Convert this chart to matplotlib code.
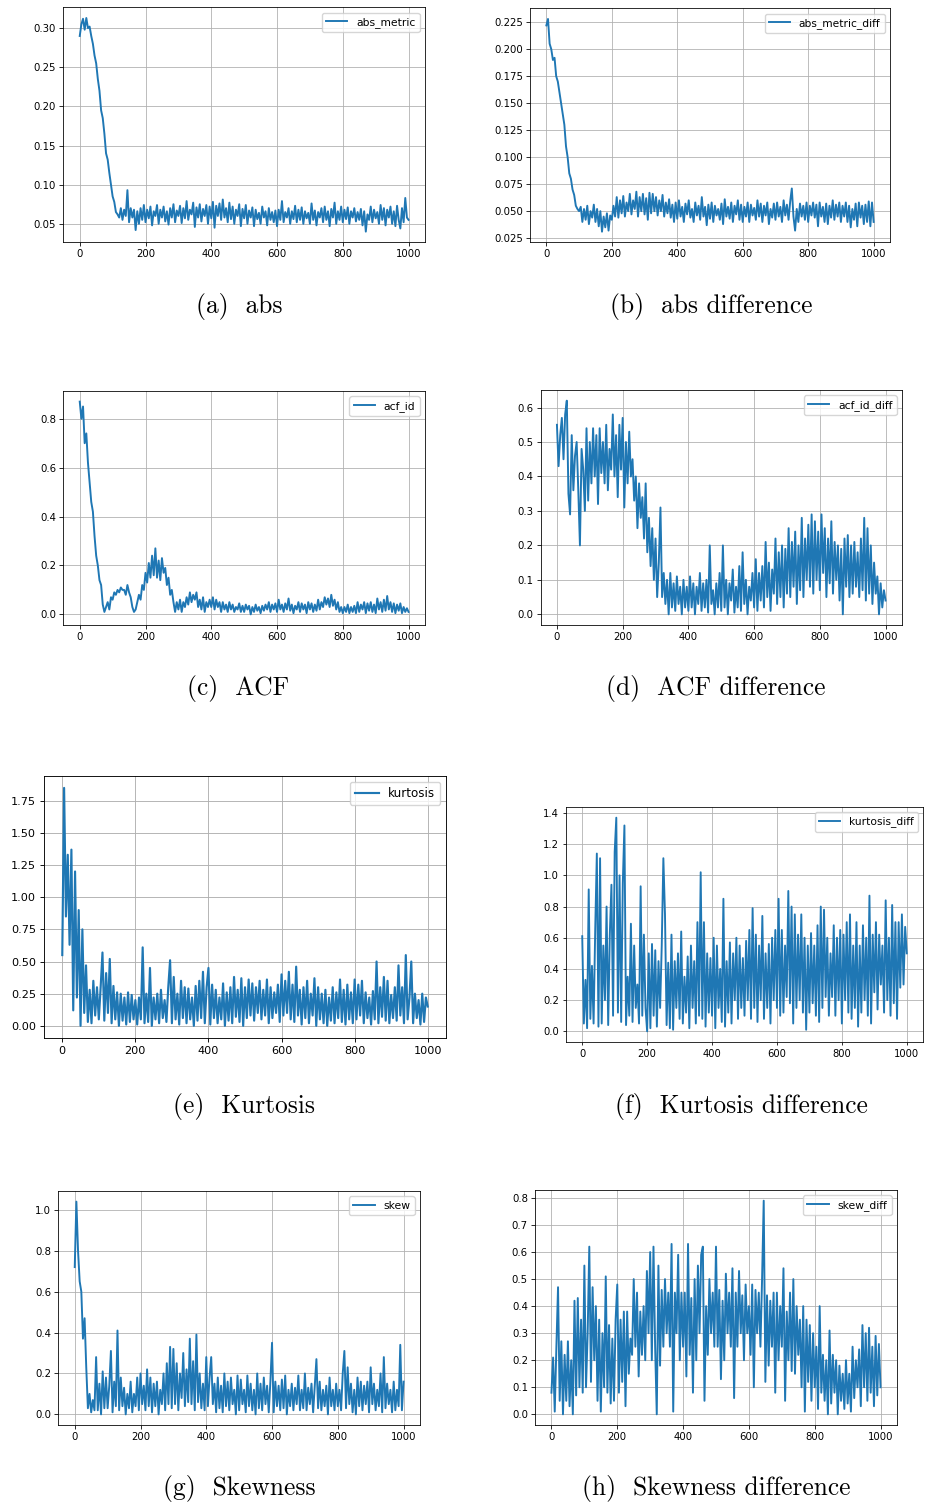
import numpy as np
import matplotlib
matplotlib.use("Agg")
import matplotlib.pyplot as plt
from matplotlib.ticker import MultipleLocator

# values, one every 5 steps from 0 to 1000 (20 per row)
abs_metric = [
    0.29, 0.305, 0.312, 0.298, 0.313, 0.30, 0.302, 0.29, 0.28, 0.265, 0.255, 0.235, 0.22, 0.195, 0.185, 0.165, 0.14, 0.132, 0.115, 0.10,
    0.085, 0.078, 0.065, 0.062, 0.058, 0.07, 0.055, 0.068, 0.06, 0.093, 0.052, 0.07, 0.058, 0.068, 0.042, 0.066, 0.05, 0.07, 0.055, 0.074,
    0.052, 0.068, 0.057, 0.072, 0.048, 0.066, 0.06, 0.074, 0.05, 0.068, 0.058, 0.072, 0.053, 0.066, 0.049, 0.07, 0.058, 0.075, 0.052, 0.067,
    0.06, 0.073, 0.051, 0.07, 0.057, 0.079, 0.055, 0.068, 0.062, 0.077, 0.046, 0.071, 0.058, 0.075, 0.053, 0.069, 0.06, 0.074, 0.05, 0.072,
    0.057, 0.078, 0.045, 0.073, 0.06, 0.076, 0.055, 0.081, 0.058, 0.07, 0.052, 0.077, 0.056, 0.072, 0.05, 0.068, 0.06, 0.075, 0.047, 0.069,
    0.057, 0.074, 0.05, 0.067, 0.058, 0.071, 0.047, 0.068, 0.056, 0.064, 0.05, 0.072, 0.058, 0.066, 0.048, 0.07, 0.055, 0.065, 0.052, 0.067,
    0.047, 0.068, 0.055, 0.079, 0.052, 0.065, 0.058, 0.07, 0.05, 0.066, 0.056, 0.073, 0.052, 0.068, 0.055, 0.071, 0.05, 0.066, 0.057, 0.064,
    0.05, 0.076, 0.055, 0.067, 0.048, 0.065, 0.058, 0.07, 0.052, 0.072, 0.055, 0.066, 0.047, 0.069, 0.058, 0.077, 0.05, 0.066, 0.055, 0.072,
    0.052, 0.068, 0.056, 0.071, 0.05, 0.066, 0.058, 0.07, 0.053, 0.065, 0.055, 0.069, 0.048, 0.066, 0.04, 0.062, 0.055, 0.072, 0.052, 0.068,
    0.057, 0.065, 0.05, 0.074, 0.055, 0.07, 0.048, 0.068, 0.058, 0.072, 0.05, 0.066, 0.047, 0.073, 0.055, 0.044, 0.07, 0.052, 0.083, 0.058,
    0.055,
]

abs_metric_diff = [
    0.222, 0.228, 0.205, 0.20, 0.19, 0.192, 0.175, 0.17, 0.16, 0.15, 0.14, 0.13, 0.11, 0.10, 0.085, 0.08, 0.07, 0.065, 0.055, 0.052,
    0.05, 0.054, 0.04, 0.052, 0.042, 0.055, 0.038, 0.05, 0.044, 0.056, 0.04, 0.052, 0.036, 0.05, 0.031, 0.045, 0.035, 0.048, 0.032, 0.046,
    0.042, 0.055, 0.045, 0.063, 0.044, 0.06, 0.048, 0.064, 0.045, 0.058, 0.05, 0.066, 0.047, 0.06, 0.052, 0.068, 0.045, 0.063, 0.05, 0.066,
    0.047, 0.062, 0.042, 0.067, 0.048, 0.066, 0.05, 0.063, 0.046, 0.06, 0.05, 0.065, 0.045, 0.058, 0.048, 0.061, 0.044, 0.056, 0.04, 0.058,
    0.043, 0.06, 0.045, 0.054, 0.04, 0.057, 0.047, 0.06, 0.044, 0.052, 0.04, 0.058, 0.046, 0.055, 0.042, 0.063, 0.045, 0.054, 0.037, 0.056,
    0.043, 0.058, 0.04, 0.055, 0.046, 0.052, 0.042, 0.057, 0.038, 0.061, 0.045, 0.054, 0.043, 0.058, 0.04, 0.055, 0.047, 0.06, 0.042, 0.056,
    0.04, 0.054, 0.045, 0.058, 0.04, 0.056, 0.046, 0.053, 0.042, 0.06, 0.045, 0.057, 0.04, 0.055, 0.046, 0.058, 0.038, 0.052, 0.044, 0.057,
    0.042, 0.058, 0.045, 0.054, 0.04, 0.06, 0.046, 0.056, 0.042, 0.059, 0.071, 0.045, 0.032, 0.052, 0.04, 0.057, 0.045, 0.055, 0.042, 0.058,
    0.04, 0.055, 0.046, 0.058, 0.044, 0.056, 0.036, 0.058, 0.045, 0.054, 0.04, 0.057, 0.038, 0.055, 0.044, 0.06, 0.042, 0.056, 0.045, 0.058,
    0.04, 0.055, 0.045, 0.058, 0.04, 0.055, 0.035, 0.052, 0.042, 0.057, 0.036, 0.058, 0.044, 0.055, 0.038, 0.056, 0.04, 0.059, 0.036, 0.058,
    0.04,
]

acf_id = [
    0.87, 0.80, 0.85, 0.70, 0.74, 0.62, 0.54, 0.46, 0.42, 0.32, 0.24, 0.20, 0.14, 0.12, 0.04, 0.01, 0.03, 0.05, 0.02, 0.07,
    0.06, 0.09, 0.08, 0.10, 0.09, 0.11, 0.10, 0.10, 0.08, 0.12, 0.09, 0.07, 0.03, 0.01, 0.02, 0.05, 0.08, 0.06, 0.12, 0.10,
    0.17, 0.13, 0.21, 0.15, 0.24, 0.16, 0.27, 0.15, 0.22, 0.14, 0.23, 0.17, 0.19, 0.12, 0.15, 0.08, 0.10, 0.05, 0.01, 0.05,
    0.02, 0.06, 0.01, 0.05, 0.03, 0.07, 0.04, 0.09, 0.05, 0.08, 0.06, 0.09, 0.03, 0.06, 0.02, 0.07, 0.01, 0.05, 0.03, 0.06,
    0.03, 0.07, 0.02, 0.06, 0.03, 0.05, 0.01, 0.05, 0.02, 0.04, 0.01, 0.05, 0.02, 0.04, 0.01, 0.03, 0.02, 0.045, 0.01, 0.035,
    0.01, 0.04, 0.02, 0.035, 0.0, 0.03, 0.01, 0.04, 0.015, 0.03, 0.005, 0.035, 0.015, 0.04, 0.02, 0.05, 0.01, 0.04, 0.02, 0.045,
    0.01, 0.06, 0.02, 0.04, 0.01, 0.045, 0.02, 0.065, 0.015, 0.04, 0.005, 0.035, 0.02, 0.05, 0.01, 0.045, 0.02, 0.04, 0.005, 0.05,
    0.02, 0.045, 0.01, 0.04, 0.015, 0.06, 0.02, 0.05, 0.03, 0.07, 0.04, 0.065, 0.03, 0.08, 0.035, 0.06, 0.02, 0.05, 0.01, 0.03,
    0.005, 0.03, 0.01, 0.04, 0.005, 0.03, 0.01, 0.035, 0.005, 0.05, 0.01, 0.04, 0.02, 0.05, 0.005, 0.045, 0.015, 0.05, 0.01, 0.04,
    0.005, 0.065, 0.02, 0.05, 0.01, 0.06, 0.015, 0.075, 0.02, 0.05, 0.01, 0.045, 0.005, 0.04, 0.015, 0.045, 0.005, 0.03, 0.01, 0.025,
    0.01,
]

acf_id_diff = [
    0.55, 0.43, 0.52, 0.57, 0.45, 0.58, 0.62, 0.35, 0.29, 0.52, 0.36, 0.46, 0.50, 0.36, 0.20, 0.48, 0.42, 0.30, 0.54, 0.33,
    0.50, 0.38, 0.54, 0.40, 0.52, 0.32, 0.54, 0.41, 0.50, 0.38, 0.55, 0.36, 0.48, 0.42, 0.58, 0.40, 0.52, 0.34, 0.55, 0.42,
    0.57, 0.31, 0.50, 0.38, 0.53, 0.40, 0.45, 0.33, 0.40, 0.25, 0.38, 0.28, 0.34, 0.22, 0.38, 0.18, 0.28, 0.14, 0.25, 0.10,
    0.22, 0.05, 0.15, 0.31, 0.05, 0.12, 0.03, 0.10, 0.0, 0.12, 0.02, 0.09, 0.01, 0.11, 0.03, 0.08, 0.0, 0.10, 0.02, 0.08,
    0.01, 0.11, 0.02, 0.09, 0.0, 0.08, 0.03, 0.12, 0.01, 0.09, 0.02, 0.10, 0.005, 0.20, 0.03, 0.07, 0.0, 0.09, 0.02, 0.12,
    0.01, 0.20, 0.02, 0.10, 0.0, 0.09, 0.04, 0.13, 0.005, 0.08, 0.02, 0.14, 0.01, 0.18, 0.03, 0.10, 0.0, 0.08, 0.04, 0.12,
    0.02, 0.16, 0.01, 0.12, 0.04, 0.14, 0.02, 0.21, 0.05, 0.15, 0.01, 0.13, 0.06, 0.22, 0.03, 0.18, 0.05, 0.20, 0.02, 0.19,
    0.06, 0.25, 0.05, 0.21, 0.08, 0.24, 0.03, 0.20, 0.07, 0.28, 0.05, 0.22, 0.10, 0.26, 0.08, 0.29, 0.06, 0.27, 0.10, 0.24,
    0.07, 0.29, 0.12, 0.25, 0.05, 0.22, 0.09, 0.27, 0.06, 0.21, 0.10, 0.20, 0.04, 0.19, 0.0, 0.22, 0.08, 0.23, 0.05, 0.20,
    0.06, 0.21, 0.08, 0.18, 0.05, 0.22, 0.07, 0.28, 0.04, 0.25, 0.06, 0.20, 0.03, 0.15, 0.06, 0.11, 0.0, 0.09, 0.02, 0.07,
    0.04,
]

kurtosis = [
    0.55, 1.85, 0.85, 1.33, 0.63, 1.37, 0.12, 1.20, 0.22, 0.90, 0.0, 0.75, 0.10, 0.47, 0.03, 0.28, 0.02, 0.35, 0.08, 0.30,
    0.05, 0.30, 0.57, 0.04, 0.41, 0.10, 0.52, 0.02, 0.31, 0.05, 0.26, 0.0, 0.25, 0.04, 0.22, 0.01, 0.26, 0.03, 0.24, 0.05,
    0.20, 0.01, 0.22, 0.05, 0.61, 0.02, 0.25, 0.03, 0.45, 0.0, 0.22, 0.05, 0.25, 0.02, 0.28, 0.06, 0.20, 0.03, 0.30, 0.51,
    0.02, 0.38, 0.05, 0.25, 0.01, 0.35, 0.06, 0.30, 0.02, 0.29, 0.05, 0.22, 0.0, 0.31, 0.04, 0.35, 0.06, 0.42, 0.02, 0.30,
    0.45, 0.01, 0.32, 0.06, 0.28, 0.02, 0.22, 0.05, 0.33, 0.0, 0.26, 0.04, 0.30, 0.02, 0.38, 0.07, 0.28, 0.03, 0.37, 0.0,
    0.30, 0.06, 0.36, 0.08, 0.33, 0.04, 0.30, 0.10, 0.35, 0.05, 0.28, 0.08, 0.36, 0.02, 0.30, 0.06, 0.26, 0.10, 0.32, 0.03,
    0.40, 0.08, 0.35, 0.10, 0.42, 0.05, 0.32, 0.03, 0.46, 0.08, 0.28, 0.01, 0.30, 0.06, 0.35, 0.02, 0.25, 0.08, 0.37, 0.0,
    0.30, 0.05, 0.25, 0.02, 0.28, 0.0, 0.22, 0.04, 0.30, 0.02, 0.26, 0.06, 0.36, 0.03, 0.28, 0.01, 0.32, 0.05, 0.26, 0.02,
    0.36, 0.05, 0.32, 0.08, 0.35, 0.02, 0.26, 0.06, 0.22, 0.01, 0.27, 0.05, 0.50, 0.02, 0.30, 0.07, 0.38, 0.04, 0.35, 0.02,
    0.24, 0.06, 0.30, 0.04, 0.47, 0.08, 0.30, 0.02, 0.55, 0.05, 0.22, 0.50, 0.02, 0.25, 0.06, 0.20, 0.01, 0.25, 0.03, 0.22,
    0.15,
]

kurtosis_diff = [
    0.61, 0.05, 0.33, 0.02, 0.91, 0.08, 0.42, 0.05, 0.65, 1.14, 0.03, 1.11, 0.05, 0.55, 0.20, 0.80, 0.04, 0.62, 0.94, 0.10,
    1.15, 1.37, 0.12, 1.00, 0.06, 0.95, 1.32, 0.04, 0.35, 0.10, 0.69, 0.06, 0.55, 0.15, 0.30, 0.05, 0.93, 0.10, 0.62, 0.15,
    0.0, 0.50, 0.02, 0.56, 0.10, 0.52, 0.03, 0.45, 0.15, 0.55, 1.11, 0.75, 0.04, 0.44, 0.02, 0.62, 0.01, 0.45, 0.15, 0.50,
    0.08, 0.64, 0.05, 0.35, 0.12, 0.48, 0.02, 0.55, 0.15, 0.45, 0.05, 0.70, 0.10, 1.02, 0.08, 0.70, 0.03, 0.50, 0.12, 0.47,
    0.10, 0.60, 0.02, 0.55, 0.15, 0.40, 0.06, 0.85, 0.03, 0.45, 0.12, 0.57, 0.05, 0.50, 0.20, 0.60, 0.08, 0.55, 0.15, 0.47,
    0.10, 0.58, 0.20, 0.65, 0.08, 0.79, 0.15, 0.62, 0.06, 0.55, 0.20, 0.74, 0.08, 0.50, 0.15, 0.56, 0.05, 0.60, 0.20, 0.65,
    0.15, 0.85, 0.10, 0.65, 0.12, 0.55, 0.22, 0.90, 0.18, 0.80, 0.05, 0.75, 0.15, 0.62, 0.20, 0.75, 0.12, 0.60, 0.01, 0.55,
    0.12, 0.63, 0.18, 0.55, 0.10, 0.68, 0.06, 0.80, 0.15, 0.78, 0.22, 0.60, 0.10, 0.50, 0.22, 0.68, 0.10, 0.60, 0.20, 0.65,
    0.05, 0.62, 0.20, 0.70, 0.12, 0.75, 0.08, 0.55, 0.15, 0.70, 0.03, 0.55, 0.12, 0.68, 0.20, 0.60, 0.10, 0.87, 0.05, 0.62,
    0.25, 0.70, 0.14, 0.62, 0.30, 0.55, 0.12, 0.84, 0.20, 0.60, 0.10, 0.81, 0.18, 0.70, 0.08, 0.70, 0.28, 0.75, 0.30, 0.67,
    0.50,
]

skew = [
    0.72, 1.04, 0.80, 0.65, 0.60, 0.37, 0.47, 0.23, 0.03, 0.10, 0.01, 0.07, 0.02, 0.28, 0.02, 0.15, 0.0, 0.21, 0.03, 0.18,
    0.03, 0.14, 0.31, 0.01, 0.16, 0.04, 0.41, 0.02, 0.18, 0.04, 0.13, 0.0, 0.10, 0.03, 0.16, 0.01, 0.10, 0.04, 0.18, 0.02,
    0.20, 0.05, 0.14, 0.02, 0.22, 0.04, 0.18, 0.01, 0.15, 0.04, 0.16, 0.0, 0.12, 0.05, 0.20, 0.02, 0.25, 0.05, 0.33, 0.03,
    0.32, 0.05, 0.25, 0.02, 0.20, 0.08, 0.30, 0.04, 0.22, 0.06, 0.37, 0.05, 0.26, 0.02, 0.39, 0.06, 0.20, 0.03, 0.15, 0.02,
    0.28, 0.04, 0.18, 0.28, 0.05, 0.15, 0.01, 0.18, 0.03, 0.14, 0.01, 0.20, 0.04, 0.16, 0.02, 0.18, 0.05, 0.12, 0.0, 0.19,
    0.02, 0.17, 0.05, 0.12, 0.01, 0.19, 0.04, 0.15, 0.02, 0.12, 0.0, 0.20, 0.03, 0.15, 0.02, 0.18, 0.05, 0.14, 0.01, 0.16,
    0.35, 0.01, 0.16, 0.04, 0.14, 0.02, 0.17, 0.03, 0.19, 0.0, 0.12, 0.04, 0.15, 0.02, 0.13, 0.05, 0.19, 0.02, 0.12, 0.03,
    0.20, 0.02, 0.13, 0.05, 0.15, 0.01, 0.14, 0.27, 0.03, 0.16, 0.02, 0.12, 0.04, 0.14, 0.0, 0.18, 0.04, 0.12, 0.02, 0.15,
    0.04, 0.12, 0.02, 0.20, 0.31, 0.03, 0.23, 0.05, 0.15, 0.01, 0.12, 0.0, 0.18, 0.04, 0.16, 0.02, 0.14, 0.05, 0.16, 0.01,
    0.23, 0.05, 0.15, 0.02, 0.12, 0.04, 0.20, 0.01, 0.28, 0.03, 0.15, 0.05, 0.12, 0.01, 0.16, 0.02, 0.12, 0.04, 0.34, 0.02,
    0.16,
]

skew_diff = [
    0.08, 0.21, 0.01, 0.25, 0.47, 0.05, 0.27, 0.0, 0.22, 0.05, 0.27, 0.03, 0.20, 0.0, 0.42, 0.07, 0.43, 0.10, 0.35, 0.08,
    0.55, 0.10, 0.30, 0.62, 0.12, 0.47, 0.20, 0.40, 0.05, 0.35, 0.01, 0.30, 0.10, 0.51, 0.08, 0.33, 0.04, 0.28, 0.05, 0.35,
    0.48, 0.08, 0.35, 0.12, 0.38, 0.03, 0.38, 0.15, 0.28, 0.22, 0.50, 0.25, 0.45, 0.14, 0.38, 0.22, 0.40, 0.20, 0.53, 0.30,
    0.60, 0.20, 0.62, 0.25, 0.0, 0.55, 0.18, 0.46, 0.25, 0.50, 0.30, 0.45, 0.25, 0.63, 0.01, 0.45, 0.30, 0.59, 0.20, 0.45,
    0.25, 0.45, 0.14, 0.63, 0.22, 0.43, 0.08, 0.50, 0.20, 0.55, 0.30, 0.59, 0.62, 0.05, 0.40, 0.22, 0.50, 0.30, 0.45, 0.25,
    0.62, 0.25, 0.46, 0.13, 0.42, 0.20, 0.52, 0.30, 0.45, 0.25, 0.54, 0.06, 0.45, 0.25, 0.53, 0.30, 0.44, 0.20, 0.48, 0.30,
    0.40, 0.22, 0.48, 0.10, 0.46, 0.30, 0.45, 0.25, 0.50, 0.79, 0.12, 0.44, 0.18, 0.42, 0.25, 0.45, 0.08, 0.45, 0.20, 0.40,
    0.25, 0.54, 0.05, 0.38, 0.20, 0.45, 0.16, 0.50, 0.15, 0.40, 0.22, 0.35, 0.10, 0.40, 0.01, 0.35, 0.12, 0.33, 0.05, 0.30,
    0.10, 0.25, 0.02, 0.40, 0.08, 0.22, 0.05, 0.20, 0.0, 0.31, 0.04, 0.22, 0.08, 0.20, 0.0, 0.18, 0.05, 0.15, 0.02, 0.20,
    0.04, 0.15, 0.01, 0.25, 0.06, 0.20, 0.10, 0.24, 0.03, 0.33, 0.10, 0.30, 0.05, 0.32, 0.08, 0.25, 0.03, 0.29, 0.07, 0.26,
    0.10,
]

W, H = 925, 1506
BLUE = "#1f77b4"

# (series, label, caption, axes box in px: left, right, top, bottom, ytick step, caption x, caption y)
panels = [
    (abs_metric, "abs_metric", "(a)  abs", (63.3, 425, 7.3, 242.3), 0.05, 239, 306),
    (abs_metric_diff, "abs_metric_diff", "(b)  abs difference", (530, 890, 8.3, 242.3), 0.025, 711, 306),
    (acf_id, "acf_id", "(c)  ACF", (63.3, 425, 391, 625), 0.2, 238, 688),
    (acf_id_diff, "acf_id_diff", "(d)  ACF difference", (540.5, 902, 390, 625), 0.1, 716, 688),
    (kurtosis, "kurtosis", "(e)  Kurtosis", (44, 446, 776, 1037.7), 0.25, 244, 1106),
    (kurtosis_diff, "kurtosis_diff", "(f)  Kurtosis difference", (566, 923, 807, 1042), 0.2, 741, 1106),
    (skew, "skew", "(g)  Skewness", (58.3, 420, 1191, 1425), 0.2, 239, 1489),
    (skew_diff, "skew_diff", "(h)  Skewness difference", (535, 897, 1190, 1425), 0.1, 716, 1489),
]

fig = plt.figure(figsize=(W / 100, H / 100), dpi=100)

for values, label, caption, (l, r, t, b), ystep, cx, cy in panels:
    s = (r - l) / 496.0  # shrink factor of the embedded figure
    ax = fig.add_axes([l / W, 1 - b / H, (r - l) / W, (b - t) / H])
    steps = np.linspace(0, 1000, len(values))
    ax.plot(steps, values, color=BLUE, lw=1.9 * s, label=label)
    ax.set_xticks([0, 200, 400, 600, 800, 1000])
    ax.yaxis.set_major_locator(MultipleLocator(ystep))
    ax.grid(True, color="#b0b0b0", lw=0.8 * s)
    ax.tick_params(labelsize=10 * s, width=0.8 * s, length=3.5 * s, pad=3.5 * s)
    for sp in ax.spines.values():
        sp.set_linewidth(0.8 * s)
    ax.legend(loc="upper right", fontsize=10.6 * s, handlelength=2.0, borderpad=0.4)
    fig.text(cx / W, 1 - cy / H, caption, family="cmr10", fontsize=18.3,
             ha="center", va="center")

fig.savefig("out.png", dpi=100)
